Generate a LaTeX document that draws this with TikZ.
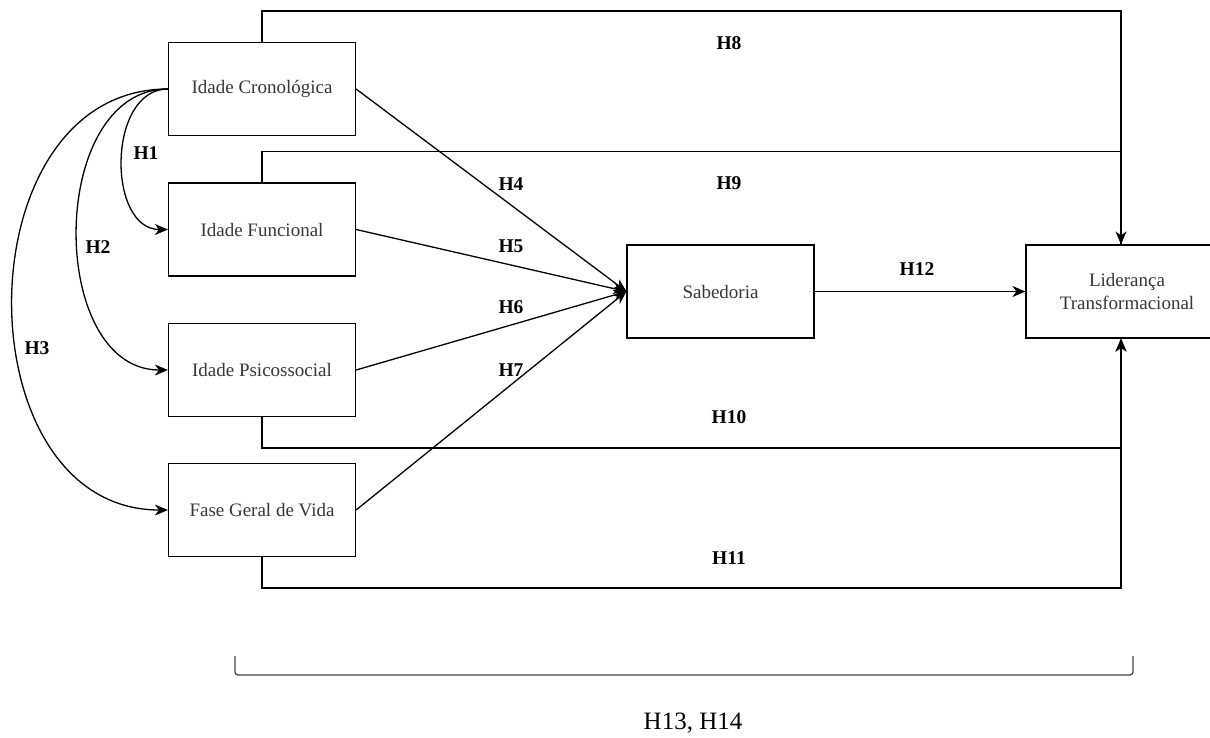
\documentclass[tikz,border=0pt]{standalone}
\usepackage{fontspec}
\setmainfont{Liberation Serif}
\usepackage{tikz}
\usetikzlibrary{arrows.meta,positioning,calc}
\definecolor{boxtext}{RGB}{55,55,55}
\definecolor{bracegray}{RGB}{70,70,70}
\newcommand{\hyplabel}[3]{\node[hyplab] (#1) at #2 {#3};}

\begin{document}
\begin{tikzpicture}[x=1pt,y=-1pt,
  varbox/.style={draw,line width=1.2pt,minimum width=187pt,minimum height=93pt,
    text=boxtext,font=\fontsize{19}{23}\selectfont,align=center,inner sep=0pt},
  hyplab/.style={font=\fontsize{19.5}{23}\selectfont\bfseries,inner sep=0pt},
  link/.style={line width=1.3pt},
  arr/.style={link,-{Stealth[length=13pt,width=11pt,inset=4pt]}}]
\useasboundingbox (0,0) rectangle (1210,737);
% variables
\node[varbox] (crono) at (262,89) {Idade Cronológica};
\node[varbox] (func) at (262,229.5) {Idade Funcional};
\node[varbox] (psico) at (262,370) {Idade Psicossocial};
\node[varbox] (fase) at (262,510) {Fase Geral de Vida};
\node[varbox] (sab) at (720.5,291.5) {Sabedoria};
\node[varbox,minimum width=190pt] (lider) at (1121,291.5) {\hspace*{12pt}Liderança\\\hspace*{12pt}Transformacional};
% age dimensions
\draw[arr] (crono.west) .. controls +(-61,0) and +(-61,0) .. (func.west);
\draw[arr] (crono.west) .. controls +(-121,0) and +(-121,0) .. (psico.west);
\draw[arr] (crono.west) .. controls +(-207,0) and +(-207,0) .. (fase.west);
% paths into wisdom
\draw[arr] (crono.east) -- (sab.west);
\draw[arr] (func.east) -- (sab.west);
\draw[arr] (psico.east) -- (sab.west);
\draw[arr] (fase.east) -- (sab.west);
\draw[arr] (sab.east) -- (lider.west);
% direct paths
\draw[arr] (crono.north) -- ++(0,-31) -| (lider.north);
\draw[link] (func.north) -- ++(0,-31) -| (lider.north);
\draw[arr] (psico.south) -- ++(0,31) -| (lider.south);
\draw[arr] (fase.south) -- ++(0,31) -| (lider.south);
% brace
\coordinate (bl) at (235,656);
\coordinate (br) at (1133,656);
\draw[bracegray,line width=1.3pt,rounded corners=3pt] (bl) -- ++(0,19) -- ($(br)+(0,19)$) -- (br);
\node[font=\fontsize{25}{30}\selectfont,inner sep=0pt] (h1314) at (693,723) {H13, H14};
% hypothesis labels
\hyplabel{h1}{(146,153)}{H1}
\hyplabel{h2}{(98,247)}{H2}
\hyplabel{h3}{(37,348)}{H3}
\hyplabel{h4}{(511,184)}{H4}
\hyplabel{h5}{(511,246)}{H5}
\hyplabel{h6}{(511,307)}{H6}
\hyplabel{h7}{(511,370)}{H7}
\hyplabel{h8}{(729,43)}{H8}
\hyplabel{h9}{(729,183)}{H9}
\hyplabel{h10}{(729,417)}{H10}
\hyplabel{h11}{(729,558)}{H11}
\hyplabel{h12}{(917,269)}{H12}
\end{tikzpicture}
\end{document}
